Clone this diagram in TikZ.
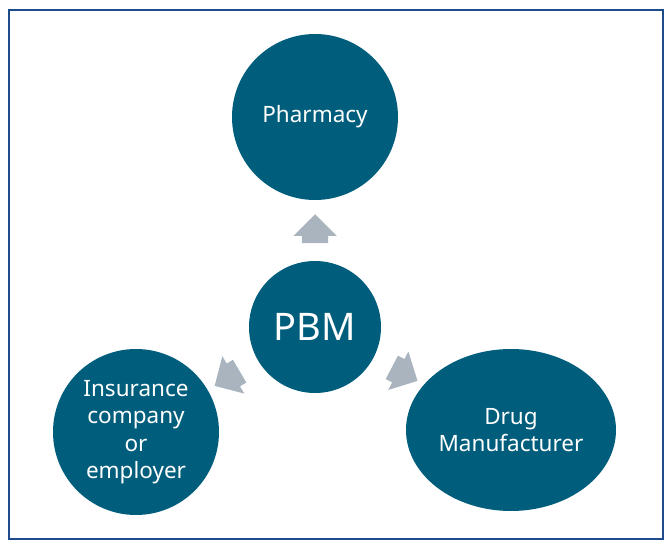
\documentclass[tikz,border=0pt]{standalone}
\usepackage{fontspec}
\setmainfont{Noto Sans}
\usepackage{tikz}
\usetikzlibrary{positioning}
\usetikzlibrary{shapes.geometric,shapes.arrows}

\definecolor{nodeblue}{RGB}{0,94,124}
\definecolor{arrowgray}{RGB}{169,180,191}
\definecolor{frameblue}{RGB}{28,76,140}

\begin{document}
\begin{tikzpicture}[x=1pt,y=-1pt,node distance=3cm,
                    main node/.style={circle,fill=nodeblue,text=white,align=center,
                                      inner sep=0pt,font=\fontsize{22.5}{27.5}\selectfont},
                    flow arrow/.style={single arrow,fill=arrowgray,inner xsep=0pt,inner ysep=13pt,
                                       minimum height=29pt,
                                       single arrow head extend=8.5pt,
                                       sloped,allow upside down}]
                \useasboundingbox (0,0) rectangle (672,548);
                \draw[frameblue,line width=2pt] (9,10) rectangle (663,539);
                \node[main node,minimum size=132pt,font=\fontsize{38}{40}\selectfont] (PBM) at (315,327) {PBM};
                \node[main node,minimum size=166pt] (P) [on grid,above=210pt of PBM] {Pharmacy};
                \node[main node,minimum size=166pt] (I) [on grid,below left=105pt and 179pt of PBM]
                    {Insurance\\company\\or\\employer};
                \node[main node,ellipse,minimum width=210pt,minimum height=162pt] (D)
                    [on grid,below right=103pt and 196pt of PBM] {Drug\\Manufacturer};
                \path
                    (PBM) -- node[flow arrow,pos=0.42] {} (P)
                    (PBM) -- node[flow arrow] {} (I)
                    (PBM) -- node[flow arrow] {} (D);
\end{tikzpicture}
\end{document}
